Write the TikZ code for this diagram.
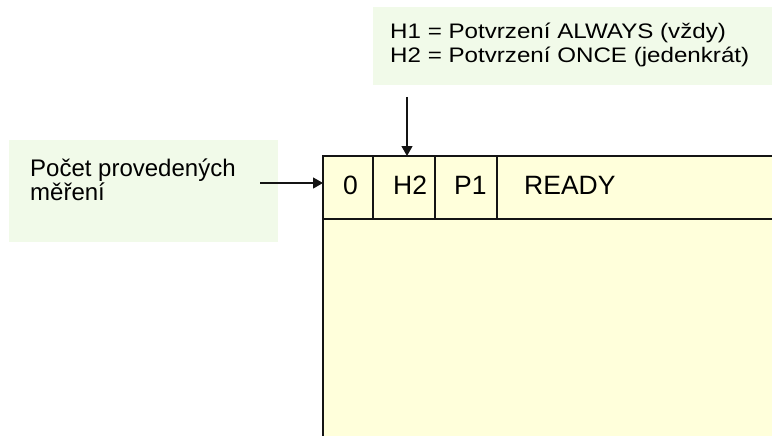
\documentclass[tikz,border=0pt]{standalone}
\usepackage{fontspec}
\setmainfont{Liberation Sans}
\newfontfamily\widefont[FakeStretch=1.15]{Liberation Sans}
\usetikzlibrary{arrows.meta,positioning}
\definecolor{mint}{RGB}{241,250,233}
\definecolor{cream}{RGB}{255,255,219}
\definecolor{edge}{RGB}{20,20,20}
\tikzset{
  >={Triangle[length=10pt,width=11pt]},
  note/.style={fill=mint,inner sep=0pt,outer sep=0pt,anchor=north west},
  notetext/.style={align=left,inner sep=0pt,anchor=north west},
  cell/.style={draw=edge,line width=1.5pt,fill=cream,inner sep=0pt,outer sep=0pt,
    minimum height=63pt,anchor=north west},
  celltext/.style={font=\fontsize{26.5}{30}\selectfont,inner sep=0pt,anchor=base west},
  pointer/.style={->,line width=1.3pt,draw=edge},
}
\begin{document}
\begin{tikzpicture}[x=1pt,y=-1pt]
  \useasboundingbox (0,0) rectangle (772,436);
  % notes
  \node[note,minimum width=420pt,minimum height=78pt] (legend) at (373,7) {};
  \node[notetext,font=\widefont\fontsize{21}{24}\selectfont] (legendtext) at (390,22.5)
    {H1 = Potvrzení ALWAYS (vždy)\\H2 = Potvrzení ONCE (jedenkrát)};
  \node[note,minimum width=269pt,minimum height=102pt] (countbox) at (9,140) {};
  \node[notetext,font=\fontsize{24}{20}\selectfont] (counttext) at (30,159)
    {Počet provedených\\měření};
  % record
  \node[cell,minimum width=500pt,minimum height=260pt] (body) at (323,219) {};
  \foreach \x/\w/\d/\t [count=\i] in {323/50/20/0,373/62/20/H2,435/62/19/P1,497/320/27/READY}{
    \node[cell,minimum width=\w pt] (c\i) at (\x,156) {};
    \node[celltext] (t\i) at (\x+\d,194.5) {\t};
  }
  % pointers
  \coordinate (countstart) at (260,183);
  \coordinate (legendstart) at (407,97);
  \draw[pointer] (countstart) -- (c1.west |- countstart);
  \draw[pointer] (legendstart) -- (legendstart |- c2.north);
\end{tikzpicture}
\end{document}
